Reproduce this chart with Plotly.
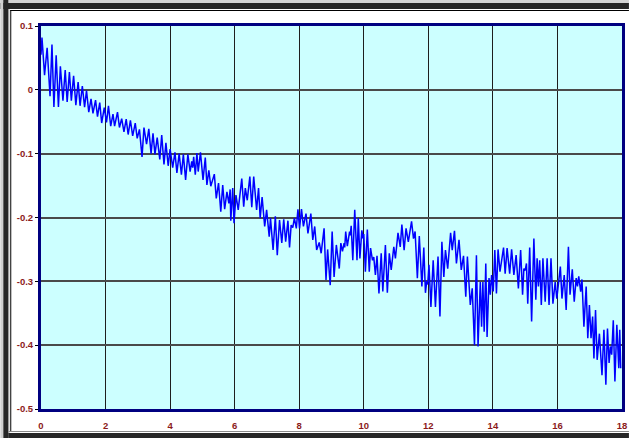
import plotly.graph_objects as go

# ---------------- data (peaks and troughs) ----------------
x_seg1 = [0.00, 0.03, 0.11, 0.19, 0.28, 0.34, 0.40, 0.47, 0.54, 0.60,
          0.68, 0.75, 0.81, 0.88, 0.94, 1.01, 1.08, 1.15, 1.21, 1.28,
          1.35, 1.41, 1.48, 1.55, 1.61, 1.69, 1.75, 1.82, 1.88, 1.96,
          2.03, 2.09, 2.16, 2.23, 2.28, 2.37, 2.43, 2.50, 2.57, 2.64,
          2.70, 2.77, 2.84, 2.92, 2.98, 3.05, 3.13, 3.19, 3.27, 3.34,
          3.41, 3.47, 3.53, 3.60, 3.68, 3.74, 3.81, 3.87, 3.94, 4.00,
          4.08, 4.15, 4.21, 4.28, 4.35, 4.41, 4.48]
y_seg1 = [0.055, 0.082, 0.023, 0.066, -0.010, 0.071, -0.027, 0.054, -0.027, 0.037,
          -0.017, 0.031, -0.019, 0.028, -0.017, 0.022, -0.024, 0.012, -0.025, 0.006,
          -0.027, -0.001, -0.035, -0.014, -0.037, -0.016, -0.042, -0.020, -0.052, -0.028,
          -0.051, -0.025, -0.057, -0.038, -0.057, -0.035, -0.059, -0.045, -0.066, -0.046,
          -0.070, -0.048, -0.072, -0.052, -0.076, -0.062, -0.105, -0.059, -0.085, -0.061,
          -0.100, -0.068, -0.101, -0.075, -0.109, -0.071, -0.117, -0.083, -0.119, -0.093,
          -0.122, -0.098, -0.130, -0.100, -0.133, -0.101, -0.141]

x_seg2 = [4.55, 4.62, 4.67, 4.70, 4.73, 4.78, 4.83, 4.87, 4.94, 5.02,
          5.09, 5.14, 5.20, 5.26, 5.37, 5.43, 5.50, 5.57, 5.63, 5.69,
          5.76, 5.82, 5.86, 5.88, 5.94, 5.98, 6.04, 6.11, 6.22, 6.28,
          6.33, 6.39, 6.47, 6.53, 6.59, 6.68, 6.74, 6.79, 6.85, 6.93,
          6.99, 7.07, 7.11, 7.19, 7.26, 7.32, 7.39, 7.46, 7.52, 7.58,
          7.65, 7.70, 7.75, 7.80, 7.85, 7.91, 7.96, 8.01, 8.07, 8.13,
          8.21, 8.27, 8.36, 8.42, 8.48, 8.54, 8.62, 8.68, 8.77, 8.83,
          8.88]
y_seg2 = [-0.101, -0.128, -0.112, -0.122, -0.105, -0.133, -0.099, -0.128, -0.098, -0.141,
          -0.106, -0.149, -0.126, -0.151, -0.132, -0.170, -0.146, -0.191, -0.149, -0.187,
          -0.160, -0.178, -0.156, -0.205, -0.154, -0.209, -0.165, -0.188, -0.139, -0.183,
          -0.154, -0.173, -0.136, -0.184, -0.136, -0.188, -0.154, -0.201, -0.168, -0.214,
          -0.188, -0.230, -0.201, -0.251, -0.198, -0.259, -0.204, -0.240, -0.203, -0.238,
          -0.205, -0.247, -0.212, -0.216, -0.201, -0.217, -0.187, -0.217, -0.187, -0.214,
          -0.194, -0.225, -0.194, -0.235, -0.214, -0.251, -0.239, -0.256, -0.217, -0.298,
          -0.250]

x_seg3 = [8.96, 9.02, 9.08, 9.15, 9.24, 9.29, 9.34, 9.39, 9.41, 9.44,
          9.49, 9.56, 9.58, 9.61, 9.66, 9.72, 9.79, 9.83, 9.88, 9.94,
          9.98, 10.00, 10.05, 10.11, 10.17, 10.21, 10.27, 10.31, 10.36, 10.41,
          10.47, 10.54, 10.59, 10.67, 10.73, 10.79, 10.85, 10.93, 10.98, 11.06,
          11.13, 11.18, 11.25, 11.31, 11.38, 11.48, 11.54, 11.59, 11.66, 11.72,
          11.80, 11.86, 11.91, 11.95, 11.98, 12.02, 12.08, 12.15, 12.22, 12.30,
          12.36, 12.42, 12.48, 12.53, 12.60, 12.69, 12.74, 12.81, 12.87, 12.95,
          13.02, 13.09, 13.16, 13.21, 13.30, 13.36, 13.43]
y_seg3 = [-0.306, -0.222, -0.293, -0.243, -0.280, -0.240, -0.253, -0.240, -0.247, -0.222,
          -0.245, -0.222, -0.228, -0.213, -0.267, -0.188, -0.267, -0.201, -0.264, -0.220,
          -0.233, -0.226, -0.285, -0.219, -0.285, -0.248, -0.267, -0.262, -0.290, -0.260,
          -0.319, -0.256, -0.316, -0.243, -0.318, -0.256, -0.282, -0.246, -0.264, -0.224,
          -0.246, -0.211, -0.251, -0.217, -0.238, -0.206, -0.233, -0.222, -0.295, -0.229,
          -0.308, -0.247, -0.318, -0.300, -0.305, -0.274, -0.340, -0.267, -0.340, -0.261,
          -0.355, -0.238, -0.293, -0.251, -0.280, -0.224, -0.251, -0.221, -0.272, -0.235,
          -0.282, -0.260, -0.324, -0.261, -0.337, -0.311, -0.400]

x_seg4 = [13.49, 13.54, 13.61, 13.65, 13.69, 13.73, 13.78, 13.82, 13.88, 13.92,
          13.96, 14.01, 14.06, 14.11, 14.16, 14.22, 14.33, 14.38, 14.44, 14.52,
          14.58, 14.65, 14.72, 14.79, 14.86, 14.92, 14.96, 15.00, 15.04, 15.08,
          15.14, 15.20, 15.27, 15.33, 15.37, 15.41, 15.45, 15.50, 15.55, 15.62,
          15.68, 15.74, 15.80, 15.86, 15.93, 15.98, 16.09, 16.14, 16.21, 16.27,
          16.34, 16.39, 16.46, 16.52, 16.58, 16.62, 16.66, 16.72, 16.76, 16.82,
          16.89, 16.94, 16.99, 17.04, 17.09, 17.13, 17.18, 17.23, 17.30, 17.38,
          17.44, 17.50, 17.55, 17.60, 17.64, 17.68, 17.73, 17.78, 17.84, 17.90,
          17.93, 17.96]
y_seg4 = [-0.259, -0.402, -0.301, -0.371, -0.301, -0.379, -0.272, -0.387, -0.295, -0.321,
          -0.290, -0.316, -0.251, -0.319, -0.250, -0.285, -0.247, -0.288, -0.248, -0.288,
          -0.250, -0.290, -0.259, -0.311, -0.251, -0.321, -0.280, -0.283, -0.272, -0.335,
          -0.247, -0.363, -0.233, -0.329, -0.264, -0.308, -0.267, -0.337, -0.264, -0.332,
          -0.264, -0.337, -0.264, -0.335, -0.301, -0.327, -0.277, -0.327, -0.290, -0.345,
          -0.246, -0.321, -0.281, -0.332, -0.295, -0.308, -0.292, -0.316, -0.297, -0.371,
          -0.308, -0.389, -0.337, -0.389, -0.355, -0.421, -0.345, -0.423, -0.382, -0.447,
          -0.376, -0.462, -0.374, -0.428, -0.402, -0.415, -0.361, -0.457, -0.368, -0.436,
          -0.376, -0.436]

x_tick_vals = [0, 2, 4, 6, 8, 10, 12, 14, 16, 18]
x_tick_text = ["0", "2", "4", "6", "8", "10", "12", "14", "16", "18"]
y_tick_vals = [0.1, 0.0, -0.1, -0.2, -0.3, -0.4, -0.5]
y_tick_text = ["0.1", "0", "-0.1", "-0.2", "-0.3", "-0.4", "-0.5"]

x_all = x_seg1 + x_seg2 + x_seg3 + x_seg4
y_all = y_seg1 + y_seg2 + y_seg3 + y_seg4

# ---------------- layout constants ----------------
W, H = 634, 438
L, R, T, B = 41, 7, 26, 29
PW, PH = W - L - R, H - T - B

def px(xp):
    return (xp - L) / PW

def py(yp):
    return (H - B - yp) / PH

fig = go.Figure()
fig.add_trace(go.Scatter(x=x_all, y=y_all, mode="lines",
                         line=dict(color="#0000FF", width=1.5),
                         hoverinfo="skip", showlegend=False))

tick_font = dict(family="Liberation Sans, Arial, sans-serif", size=9.5,
                 color="#8B1A1A", weight="bold")

# window frame pieces around the chart (screenshot border)
frame = [
    (0, 0, W, 3, "#d4d4d4"),
    (0, 3, W, 9, "#262626"),
    (10, 10, W, 11, "#000000"),
    (0, 0, 3, H, "#cfcfcf"),
    (3, 0, 8, H, "#262626"),
    (8, 9, 9, H, "#8a8a8a"),
    (10, 10, 11, 432, "#000000"),
    (8, 431, W, 432, "#8a8a8a"),
    (8, 433, W, H, "#262626"),
]
shapes = []
for x0, y0, x1, y1, c in frame:
    shapes.append(dict(type="rect", xref="paper", yref="paper",
                       x0=px(x0), x1=px(x1), y0=py(y1), y1=py(y0),
                       fillcolor=c, line=dict(width=0), layer="above"))

fig.update_layout(
    width=W, height=H,
    margin=dict(l=L, r=R, t=T, b=B, pad=0),
    paper_bgcolor="#FFFFFF",
    plot_bgcolor="#CCFFFF",
    shapes=shapes,
    xaxis=dict(range=[0, 18], tickvals=x_tick_vals, ticktext=x_tick_text,
               showgrid=True, gridcolor="#1e1e1e", gridwidth=1,
               showline=True, linecolor="#000080", linewidth=3, mirror=True,
               ticks="", ticklabelstandoff=6, tickfont=tick_font,
               zeroline=False, fixedrange=True),
    yaxis=dict(range=[-0.5, 0.1], tickvals=y_tick_vals, ticktext=y_tick_text,
               showgrid=True, gridcolor="#4a4a4a", gridwidth=1.5,
               showline=True, linecolor="#000080", linewidth=3, mirror=True,
               ticks="outside", ticklen=3, tickcolor="#000000", tickwidth=1,
               tickfont=tick_font, zeroline=False, fixedrange=True),
)

fig.write_html("out.html", config={"displayModeBar": False},
               post_script="document.body.style.margin='0';"
                           "document.body.style.overflow='hidden';")
